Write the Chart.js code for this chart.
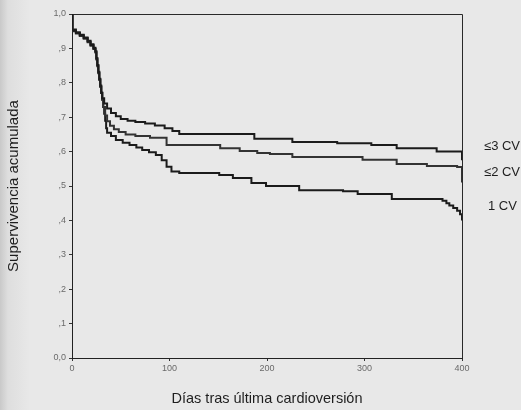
<!DOCTYPE html>
<html>
<head>
<meta charset="utf-8">
<script src="https://cdn.jsdelivr.net/npm/chart.js@4"></script>
<style>
  html, body { margin: 0; padding: 0; }
  body {
    width: 521px; height: 410px; overflow: hidden;
    background: linear-gradient(to right, #c9c9c9 0px, #dedede 8px, #e8e8e8 30px, #e8e8e8 100%);
  }
  #wrap { position: relative; width: 521px; height: 410px; }
</style>
</head>
<body>
<div id="wrap"><canvas id="km" width="521" height="410"></canvas></div>
<script>
// dias tras ultima cardioversion / supervivencia acumulada
const days3 = [0, 0.5, 4, 8, 12, 16, 19, 22, 24, 25, 26, 27, 28, 29, 30, 31, 33, 36, 40, 45, 50, 57, 65, 75, 85, 95, 103, 110, 187, 226, 272, 307, 333, 374, 400];
const surv3 = [1.0, 0.952, 0.945, 0.938, 0.93, 0.92, 0.91, 0.90, 0.89, 0.87, 0.85, 0.83, 0.81, 0.79, 0.77, 0.755, 0.74, 0.725, 0.712, 0.703, 0.695, 0.69, 0.686, 0.682, 0.676, 0.668, 0.66, 0.651, 0.637, 0.628, 0.624, 0.619, 0.61, 0.60, 0.575];

const days2 = [0, 0.5, 4, 8, 12, 16, 19, 22, 24, 25, 26, 27, 28, 29, 30, 31, 32, 34, 36, 39, 43, 48, 55, 65, 80, 97, 152, 172, 190, 203, 226, 298, 333, 364, 395, 400];
const surv2 = [1.0, 0.95, 0.943, 0.936, 0.928, 0.918, 0.908, 0.898, 0.888, 0.868, 0.848, 0.828, 0.808, 0.788, 0.77, 0.75, 0.73, 0.705, 0.688, 0.675, 0.665, 0.657, 0.65, 0.645, 0.64, 0.619, 0.61, 0.602, 0.596, 0.593, 0.584, 0.576, 0.564, 0.558, 0.555, 0.51];

const days1 = [0, 0.5, 4, 8, 12, 16, 19, 22, 24, 25, 26, 27, 28, 29, 30, 31, 32, 33, 34, 35, 36, 40, 45, 52, 59, 66, 72, 79, 86, 92, 97, 102, 110, 151, 165, 184, 199, 233, 278, 293, 328, 380, 384, 387, 391, 395, 398, 400];
const surv1 = [1.0, 0.955, 0.947, 0.94, 0.932, 0.922, 0.912, 0.902, 0.892, 0.872, 0.852, 0.832, 0.812, 0.792, 0.772, 0.752, 0.73, 0.71, 0.69, 0.668, 0.655, 0.645, 0.634, 0.626, 0.619, 0.612, 0.605, 0.598, 0.59, 0.575, 0.556, 0.542, 0.538, 0.532, 0.523, 0.509, 0.5, 0.488, 0.485, 0.477, 0.462, 0.457, 0.45, 0.443, 0.436, 0.428, 0.418, 0.40];

const groups = ['≤3 CV', '≤2 CV', '1 CV'];
const xTicks = [0, 100, 200, 300, 400];
const yTicks = ['0,0', ',1', ',2', ',3', ',4', ',5', ',6', ',7', ',8', ',9', '1,0'];

function pts(d, s) {
  return d.map((x, i) => ({ x: x, y: s[i] }));
}

const FONT = '"Liberation Sans", Arial, sans-serif';

// etiquetas de grupo a la derecha del grafico
const groupLabels = {
  id: 'groupLabels',
  afterDraw(chart) {
    const ctx = chart.ctx;
    const area = chart.chartArea;
    const ys = chart.scales.y;
    const offs = [[22, -5], [22, 5], [26, -8]];
    ctx.save();
    ctx.font = '13px ' + FONT;
    ctx.fillStyle = '#1e1e1e';
    ctx.textBaseline = 'middle';
    chart.data.datasets.forEach((ds, i) => {
      const last = ds.data[ds.data.length - 2];
      ctx.fillText(groups[i], area.right + offs[i][0], ys.getPixelForValue(last.y) + offs[i][1]);
    });
    ctx.restore();
  }
};

// marco superior y derecho
const frame = {
  id: 'frame',
  beforeDatasetsDraw(chart) {
    const a = chart.chartArea;
    const ctx = chart.ctx;
    ctx.save();
    ctx.strokeStyle = '#2a2a2a';
    ctx.lineWidth = 1;
    ctx.beginPath();
    ctx.moveTo(a.left, a.top + 0.5);
    ctx.lineTo(a.right + 0.5, a.top + 0.5);
    ctx.lineTo(a.right + 0.5, a.bottom);
    ctx.stroke();
    ctx.restore();
  }
};

const lineStyle = {
  stepped: true,
  pointRadius: 0,
  borderWidth: 2,
  fill: false,
  tension: 0
};

new Chart(document.getElementById('km'), {
  type: 'line',
  data: {
    datasets: [
      Object.assign({ label: groups[0], data: pts(days3, surv3), borderColor: '#1b1b1b' }, lineStyle),
      Object.assign({ label: groups[1], data: pts(days2, surv2), borderColor: '#333333' }, lineStyle),
      Object.assign({ label: groups[2], data: pts(days1, surv1), borderColor: '#1b1b1b' }, lineStyle)
    ]
  },
  options: {
    responsive: false,
    animation: false,
    devicePixelRatio: 1,
    layout: { padding: { top: 14, right: 59, left: 0, bottom: 0 } },
    plugins: { legend: { display: false }, tooltip: { enabled: false } },
    scales: {
      x: {
        type: 'linear',
        min: 0, max: 400,
        afterFit: s => { s.height = 52; },
        afterBuildTicks: s => { s.ticks = xTicks.map(v => ({ value: v })); },
        ticks: {
          color: '#6a6a6a',
          font: { family: FONT, size: 9 },
          padding: 2,
          maxRotation: 0
        },
        grid: { drawOnChartArea: false, drawTicks: true, tickLength: 3, color: '#333' },
        border: { display: true, color: '#222', width: 1 },
        title: {
          display: true,
          text: 'Días tras última cardioversión',
          color: '#1e1e1e',
          font: { family: FONT, size: 14.5 },
          padding: { top: 8, bottom: 2 }
        }
      },
      y: {
        min: 0, max: 1,
        afterFit: s => { s.width = 72; },
        afterBuildTicks: s => { s.ticks = yTicks.map((t, i) => ({ value: i / 10 })); },
        ticks: {
          color: '#6a6a6a',
          font: { family: FONT, size: 9 },
          padding: 3,
          callback: (v, i) => yTicks[i]
        },
        grid: { drawOnChartArea: false, drawTicks: true, tickLength: 3, color: '#333' },
        border: { display: true, color: '#222', width: 1 },
        title: {
          display: true,
          text: 'Supervivencia acumulada',
          color: '#1e1e1e',
          font: { family: FONT, size: 15 },
          padding: { top: 5, bottom: 0 }
        }
      }
    }
  },
  plugins: [frame, groupLabels]
});
</script>
</body>
</html>
